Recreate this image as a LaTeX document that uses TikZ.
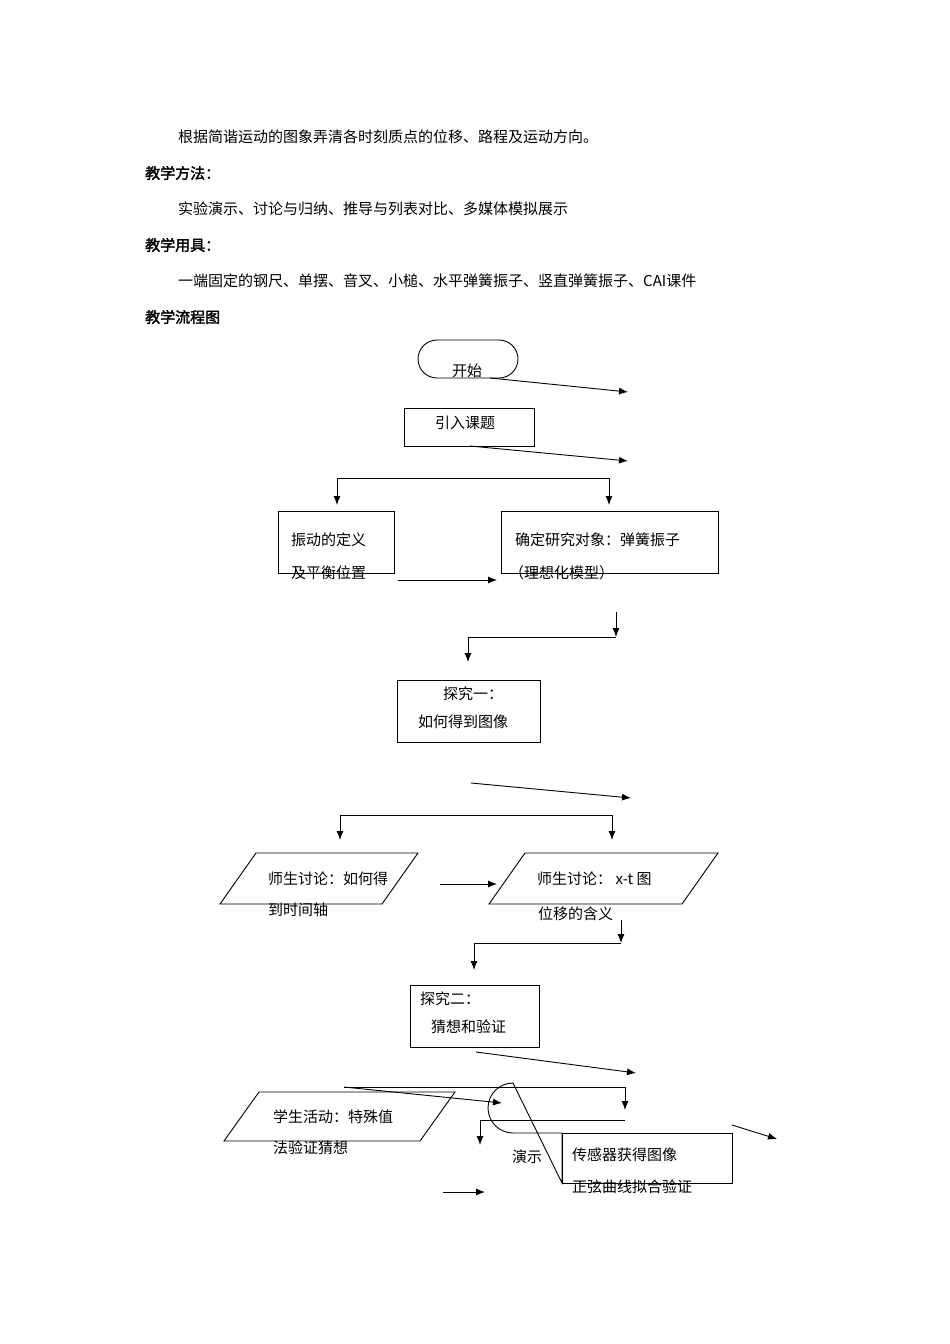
\documentclass[tikz,border=0pt]{standalone}
\usepackage{fontspec}
\setmainfont{Noto Sans CJK SC}
\newfontfamily\cjkbold{Noto Sans CJK SC}[FakeBold=2]
\usetikzlibrary{arrows.meta}
\tikzset{
  txt/.style={anchor=west, inner sep=0pt, font=\fontsize{15}{18}\selectfont},
  hd/.style={txt, font=\fontsize{15}{18}\selectfont\cjkbold},
  box/.style={draw, line width=0.9pt},
  arr/.style={-{Latex[length=9pt,width=7pt]}, line width=0.9pt},
  ln/.style={line width=0.9pt}
}
\begin{document}
\begin{tikzpicture}[x=1pt, y=-1pt]
  \useasboundingbox (0,0) rectangle (950,1344);
  % text above the chart
  \node[txt] (aim) at (178,137) {根据简谐运动的图象弄清各时刻质点的位移、路程及运动方向。};
  \node[hd] (h1) at (145,173) {教学方法：};
  \node[txt] (way) at (178,209) {实验演示、讨论与归纳、推导与列表对比、多媒体模拟展示};
  \node[hd] (h2) at (145,245) {教学用具：};
  \node[txt] (tool) at (178,281) {一端固定的钢尺、单摆、音叉、小槌、水平弹簧振子、竖直弹簧振子、CAI课件};
  \node[hd] (h3) at (145,317) {教学流程图};

  % start and first box
  \draw[box, rounded corners=19pt] (418,340) rectangle (518,378);
  \node[txt] (start) at (452,371) {开始};
  \coordinate (a1) at (490,378); \coordinate (a2) at (628,392);
  \draw[arr] (a1) -- (a2);
  \draw[box] (404,408) rectangle (534,446);
  \node[txt] (intro) at (435,423) {引入课题};
  \coordinate (b1) at (470,446); \coordinate (b2) at (628,461);
  \draw[arr] (b1) -- (b2);

  % split one
  \coordinate (c1) at (337,478); \coordinate (c2) at (609,478);
  \draw[ln] (c1) -- (c2);
  \draw[arr] (c1) -- (337,505);
  \draw[arr] (c2) -- (609,505);
  \draw[box] (278,511) rectangle (394,573);
  \node[txt] (def1) at (291,540) {振动的定义};
  \node[txt] (def2) at (291,573) {及平衡位置};
  \draw[arr] (398,580) -- (497,580);
  \draw[box] (501,511) rectangle (718,573);
  \node[txt] (obj1) at (515,540) {确定研究对象：弹簧振子};
  \node[txt] (obj2) at (509,573) {（理想化模型）};

  % join to inquiry one
  \coordinate (d1) at (616,612); \coordinate (d2) at (616,637); \coordinate (d3) at (468,637);
  \draw[arr] (d1) -- (d2);
  \draw[ln] (d2) -- (d3);
  \draw[arr] (d3) -- (468,662);
  \draw[box] (397,680) rectangle (540,742);
  \node[txt] (inq1) at (443,694) {探究一：};
  \node[txt] (inq1b) at (418,722) {如何得到图像};
  \draw[arr] (471,783) -- (631,798);

  % split two
  \coordinate (e1) at (340,815); \coordinate (e2) at (612,815);
  \draw[ln] (e1) -- (e2);
  \draw[arr] (e1) -- (340,840);
  \draw[arr] (e2) -- (612,840);
  \draw[box] (220,904) -- (256,853) -- (418,853) -- (382,904) -- cycle;
  \node[txt] (dis1) at (268,879) {师生讨论：如何得};
  \node[txt] (dis1b) at (268,910) {到时间轴};
  \draw[arr] (440,884) -- (497,884);
  \draw[box] (489,904) -- (525,853) -- (718,853) -- (682,904) -- cycle;
  \node[txt] (dis2) at (537,879) {师生讨论： x-t 图};
  \node[txt] (dis2b) at (538,914) {位移的含义};

  % join to inquiry two
  \coordinate (f1) at (621,920); \coordinate (f2) at (621,943); \coordinate (f3) at (474,943);
  \draw[arr] (f1) -- (f2);
  \draw[ln] (f2) -- (f3);
  \draw[arr] (f3) -- (474,970);
  \draw[box] (410,985) rectangle (539,1047);
  \node[txt] (inq2) at (420,999) {探究二：};
  \node[txt] (inq2b) at (431,1027) {猜想和验证};
  \draw[arr] (476,1052) -- (636,1073);

  % last row
  \coordinate (g1) at (344,1087); \coordinate (g2) at (625,1087);
  \draw[ln] (g1) -- (g2);
  \draw[arr] (g1) -- (502,1103);
  \draw[arr] (g2) -- (625,1110);
  \coordinate (h1) at (625,1120); \coordinate (h2) at (480,1120);
  \draw[ln] (h1) -- (h2);
  \draw[arr] (h2) -- (480,1145);
  \draw[box] (224,1141) -- (259,1092) -- (455,1092) -- (420,1141) -- cycle;
  \node[txt] (stu) at (273,1117) {学生活动：特殊值};
  \node[txt] (stub) at (273,1148) {法验证猜想};
  \draw[box] (562,1133) -- (513,1133) arc (90:270:25) -- (562,1183) -- cycle;
  \draw[box] (562,1133) rectangle (732,1183);
  \node[txt] (demo) at (512,1157) {演示};
  \node[txt] (sens) at (572,1155) {传感器获得图像};
  \node[txt] (fit) at (572,1187) {正弦曲线拟合验证};
  \draw[arr] (732,1125) -- (777,1139);
  \draw[arr] (443,1192) -- (485,1192);
\end{tikzpicture}
\end{document}
